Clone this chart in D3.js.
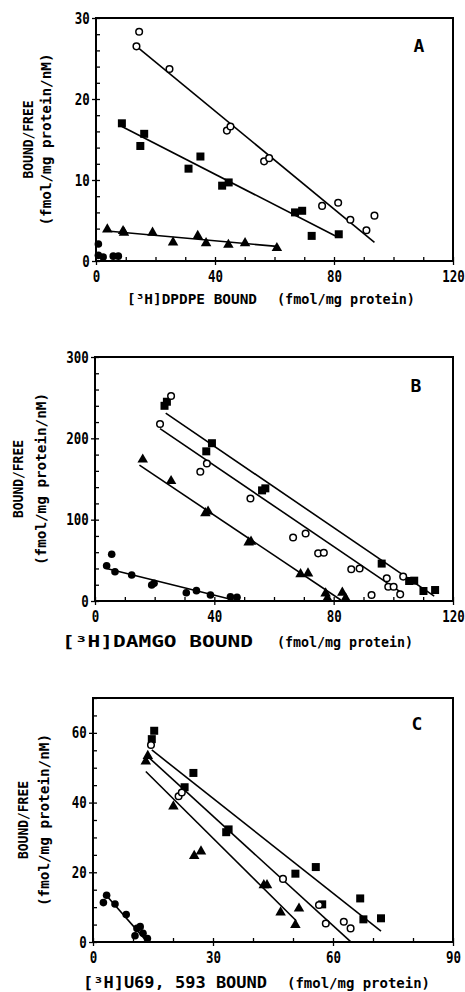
<!DOCTYPE html>
<html>
<head>
<meta charset="utf-8">
<script src="https://cdn.jsdelivr.net/npm/d3@7"></script>
<style>
  body { margin: 0; background: #fff; }
  svg { display: block; }
</style>
</head>
<body>
<div id="chart"></div>
<script>
// ---- data ----
// panel A: [3H]DPDPE
const aOpenCircles = [[14.5, 28.3], [13.6, 26.5], [24.7, 23.7], [44.0, 16.1], [45.2, 16.6], [56.5, 12.3],
    [58.2, 12.7], [76.0, 6.8], [81.4, 7.2], [85.5, 5.1], [90.9, 3.8], [93.6, 5.6]]
const aSquares = [[8.7, 17.0], [14.9, 14.2], [16.2, 15.7], [31.1, 11.4], [35.1, 12.9], [42.4, 9.3],
    [44.6, 9.7], [66.9, 6.0], [69.3, 6.2], [72.5, 3.1], [81.6, 3.3]]
const aTriangles = [[3.8, 3.9], [9.1, 3.7], [9.4, 3.5], [19.0, 3.5], [25.9, 2.3], [34.2, 3.1],
    [37.0, 2.2], [44.5, 2.0], [50.1, 2.2], [60.8, 1.6]]
const aDots = [[0.8, 2.1], [0.8, 0.7], [2.4, 0.5], [5.8, 0.6], [7.5, 0.6]]
const aLines = [[13.6, 26.5, 93.6, 2.3], [8.7, 16.6, 81.0, 3.0], [3.8, 3.7, 60.8, 1.8]]

// panel B: [3H]DAMGO
const bOpenCircles = [[21.8, 217.6], [25.5, 252], [37.5, 169], [35.3, 159], [52.1, 126], [66.4, 78],
    [70.6, 83], [74.8, 58.6], [76.7, 59.4], [85.9, 39], [88.7, 40], [92.7, 7.4], [97.8, 27.9],
    [103.3, 30], [98.3, 17.6], [100.1, 17.6], [102.3, 8.2]]
const bSquares = [[23.3, 240], [24.1, 245], [37.3, 184], [39.2, 194], [56.0, 136], [57.1, 138.5],
    [96.1, 46], [105.3, 24.6], [107.0, 25], [110.1, 12.3], [114.0, 13.5]]
const bTriangles = [[16.0, 174], [25.5, 147.5], [37.0, 108], [37.9, 110], [51.5, 72], [52.3, 73],
    [68.9, 33], [71.4, 34], [77.3, 9.4], [77.9, 3.3], [82.9, 10.3], [84.0, 3.3]]
const bDots = [[3.9, 43.4], [5.6, 57.4], [6.7, 36], [12.3, 32], [19.0, 19.7], [19.8, 21.7],
    [30.6, 10.2], [34.0, 12.7], [38.7, 7.4], [45.4, 5.3], [47.6, 4.5]]
const bLines = [[23.7, 231, 113.7, 6], [21.8, 212, 103.1, 9.4], [14.9, 167, 82.4, 1.2], [3.9, 40, 46.5, 1.2]]

// panel C: [3H]U69,593
const cOpenCircles = [[14.5, 56.5], [21.4, 41.8], [22.2, 42.9], [47.5, 18.1], [56.5, 10.6],
    [58.2, 5.3], [62.7, 5.8], [64.4, 3.9]]
const cSquares = [[15.3, 60.6], [14.7, 58.2], [25.1, 48.5], [22.9, 44.4], [33.9, 32.3], [33.3, 31.5],
    [50.6, 19.6], [55.7, 21.5], [57.3, 10.8], [66.8, 12.5], [67.6, 6.5], [72.0, 6.8]]
const cTriangles = [[13.2, 51.8], [13.7, 53.4], [20.1, 38.9], [25.3, 24.7], [27.0, 26], [42.7, 16.3],
    [43.5, 16.3], [46.9, 8.5], [50.6, 4.9], [51.5, 9.6]]
const cDots = [[2.6, 11.3], [3.4, 13.4], [5.5, 10.9], [8.3, 7.9], [10.5, 1.8], [11.0, 3.9],
    [11.8, 4.4], [12.5, 2.5], [13.6, 1.0]]
const cLines = [[14.7, 55.1, 72.0, 3.1], [13.5, 53.4, 64.4, 0.1], [13.2, 48.9, 50.8, 6.1], [3.3, 13.4, 13.5, 0.1]]

// tick labels
const aXTicks = [0, 40, 80, 120]
const aYTicks = [0, 10, 20, 30]
const bXTicks = [0, 40, 80, 120]
const bYTicks = [0, 100, 200, 300]
const cXTicks = [0, 30, 60, 90]
const cYTicks = [0, 20, 40, 60]

const FONT = '"DejaVu Sans Mono", "Liberation Mono", monospace'

const svg = d3.select('#chart')
    .append('svg')
    .attr('width', 465)
    .attr('height', 992)

svg.append('rect')
    .attr('width', 465)
    .attr('height', 992)
    .attr('fill', '#fff')

function drawPanel(p) {
    const x = d3.scaleLinear().domain(p.xDomain).range([p.left, p.right])
    const y = d3.scaleLinear().domain(p.yDomain).range([p.bottom, p.top])
    const g = svg.append('g')

    // minor ticks point inward
    const xMinor = d3.range(p.xDomain[0], p.xDomain[1] + 0.001, p.xMinor)
    const yMinor = d3.range(p.yDomain[0], p.yDomain[1] + 0.001, p.yMinor)

    g.append('g')
        .attr('transform', `translate(0,${p.bottom})`)
        .call(d3.axisBottom(x).tickValues(xMinor).tickSize(-4).tickFormat(''))
        .call(a => a.select('.domain').remove())
    g.append('g')
        .attr('transform', `translate(${p.left},0)`)
        .call(d3.axisLeft(y).tickValues(yMinor).tickSize(-4).tickFormat(''))
        .call(a => a.select('.domain').remove())

    // major ticks with labels (narrow digits like the original typeface)
    const xAxis = g.append('g')
        .attr('transform', `translate(0,${p.bottom})`)
        .call(d3.axisBottom(x).tickValues(p.xTicks).tickSize(4).tickPadding(6))
    const yAxis = g.append('g')
        .attr('transform', `translate(${p.left},0)`)
        .call(d3.axisLeft(y).tickValues(p.yTicks).tickSize(4).tickPadding(2))

    ;[xAxis, yAxis].forEach(a => {
        a.select('.domain').remove()
        a.selectAll('text')
            .attr('font-family', FONT)
            .attr('font-weight', 'bold')
            .attr('font-size', 16)
            .attr('transform', 'scale(0.78,1)')
            .attr('fill', '#000')
    })
    yAxis.selectAll('text').attr('x', -8)
    g.selectAll('.tick line').attr('stroke', '#000').attr('stroke-width', 1.3)

    // frame
    g.append('rect')
        .attr('x', p.left)
        .attr('y', p.top)
        .attr('width', p.right - p.left)
        .attr('height', p.bottom - p.top)
        .attr('fill', 'none')
        .attr('stroke', '#000')
        .attr('stroke-width', 2)

    // fitted lines
    g.selectAll('line.fit')
        .data(p.lines)
        .enter()
        .append('line')
        .attr('class', 'fit')
        .attr('x1', d => x(d[0]))
        .attr('y1', d => y(d[1]))
        .attr('x2', d => x(d[2]))
        .attr('y2', d => y(d[3]))
        .attr('stroke', '#000')
        .attr('stroke-width', 1.6)

    // markers
    g.selectAll('rect.sq')
        .data(p.squares)
        .enter()
        .append('rect')
        .attr('class', 'sq')
        .attr('x', d => x(d[0]) - 4)
        .attr('y', d => y(d[1]) - 4)
        .attr('width', 8)
        .attr('height', 8)
        .attr('fill', '#000')

    g.selectAll('path.tri')
        .data(p.triangles)
        .enter()
        .append('path')
        .attr('class', 'tri')
        .attr('d', d3.symbol(d3.symbolTriangle, 48))
        .attr('transform', d => `translate(${x(d[0])},${y(d[1])})`)
        .attr('fill', '#000')

    g.selectAll('circle.dot')
        .data(p.dots)
        .enter()
        .append('circle')
        .attr('class', 'dot')
        .attr('cx', d => x(d[0]))
        .attr('cy', d => y(d[1]))
        .attr('r', 3.8)
        .attr('fill', '#000')

    g.selectAll('circle.open')
        .data(p.openCircles)
        .enter()
        .append('circle')
        .attr('class', 'open')
        .attr('cx', d => x(d[0]))
        .attr('cy', d => y(d[1]))
        .attr('r', 3.3)
        .attr('fill', '#fff')
        .attr('stroke', '#000')
        .attr('stroke-width', 1.5)

    // axis titles
    const midY = (p.top + p.bottom) / 2
    g.append('text')
        .attr('transform', `translate(${p.yLab1},${midY}) rotate(-90)`)
        .attr('text-anchor', 'middle')
        .attr('font-family', FONT)
        .attr('font-weight', 'bold')
        .attr('font-size', 14)
        .attr('textLength', 78)
        .attr('lengthAdjust', 'spacingAndGlyphs')
        .text('BOUND/FREE')
    g.append('text')
        .attr('transform', `translate(${p.yLab2},${midY}) rotate(-90)`)
        .attr('text-anchor', 'middle')
        .attr('font-family', FONT)
        .attr('font-weight', 'bold')
        .attr('font-size', 14)
        .attr('textLength', 172)
        .attr('lengthAdjust', 'spacingAndGlyphs')
        .text('(fmol/mg protein/nM)')

    g.append('text')
        .attr('x', p.xLab[0])
        .attr('y', p.xLabY)
        .attr('font-family', FONT)
        .attr('font-weight', 'bold')
        .attr('font-size', p.xLabSize)
        .attr('textLength', p.xLab[1] - p.xLab[0])
        .attr('lengthAdjust', 'spacingAndGlyphs')
        .text(p.xTitle)
    g.append('text')
        .attr('x', p.xLab[2])
        .attr('y', p.xLabY)
        .attr('font-family', FONT)
        .attr('font-weight', 'bold')
        .attr('font-size', 14)
        .attr('textLength', p.xLab[3] - p.xLab[2])
        .attr('lengthAdjust', 'spacingAndGlyphs')
        .text('(fmol/mg protein)')

    // panel letter
    g.append('text')
        .attr('x', p.letterPos[0])
        .attr('y', p.letterPos[1])
        .attr('text-anchor', 'middle')
        .attr('font-family', FONT)
        .attr('font-weight', 'bold')
        .attr('font-size', 18)
        .text(p.letter)
}

drawPanel({
    left: 96, right: 453, top: 18, bottom: 261,
    xDomain: [0, 120], yDomain: [0, 30], xTicks: aXTicks, yTicks: aYTicks, xMinor: 10, yMinor: 2,
    openCircles: aOpenCircles, squares: aSquares, triangles: aTriangles, dots: aDots, lines: aLines,
    yLab1: 33, yLab2: 51, xTitle: '[³H]DPDPE BOUND', xLabSize: 14, xLab: [127, 257, 277, 415], xLabY: 304,
    letter: 'A', letterPos: [419, 52]
})

drawPanel({
    left: 95, right: 453, top: 357, bottom: 601,
    xDomain: [0, 120], yDomain: [0, 300], xTicks: bXTicks, yTicks: bYTicks, xMinor: 10, yMinor: 20,
    openCircles: bOpenCircles, squares: bSquares, triangles: bTriangles, dots: bDots, lines: bLines,
    yLab1: 23, yLab2: 46, xTitle: '[³H]DAMGO BOUND', xLabSize: 16, xLab: [62, 253, 277, 413], xLabY: 647,
    letter: 'B', letterPos: [416, 392]
})

drawPanel({
    left: 93, right: 453, top: 698, bottom: 942,
    xDomain: [0, 90], yDomain: [0, 70], xTicks: cXTicks, yTicks: cYTicks, xMinor: 10, yMinor: 5,
    openCircles: cOpenCircles, squares: cSquares, triangles: cTriangles, dots: cDots, lines: cLines,
    yLab1: 28, yLab2: 49, xTitle: '[³H]U69, 593 BOUND', xLabSize: 16, xLab: [83, 267, 287, 430], xLabY: 988,
    letter: 'C', letterPos: [417, 730]
})
</script>
</body>
</html>
